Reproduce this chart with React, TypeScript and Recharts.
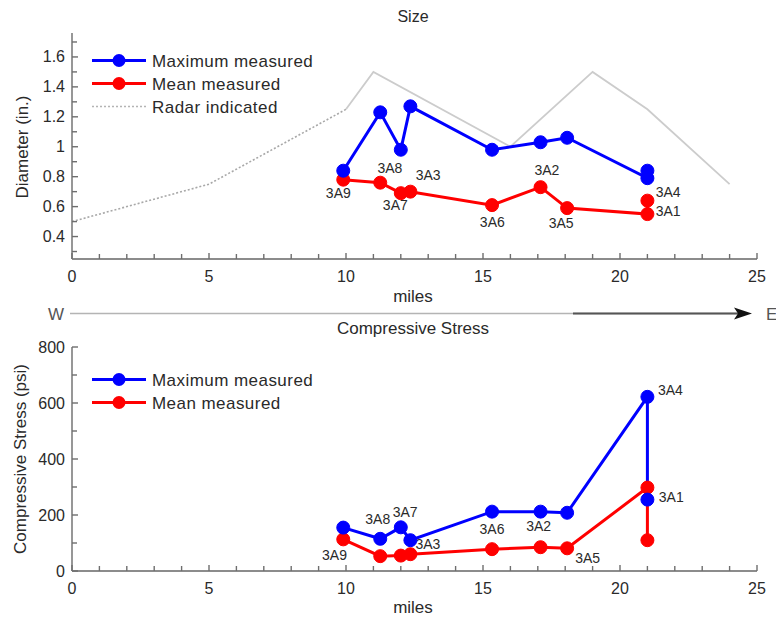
import React from 'react';
import { ComposedChart, Line, Scatter, XAxis, YAxis, Legend } from 'recharts';

// ---------- data ----------
const sites = ['3A9', '3A8', '3A7', '3A3', '3A6', '3A2', '3A5', '3A4', '3A1'];
const siteMiles = [9.9, 11.25, 12.0, 12.35, 15.33, 17.1, 18.07, 21.0, 21.0];
const diameterMax = [0.84, 1.23, 0.98, 1.27, 0.98, 1.03, 1.06, 0.79, 0.84];
const diameterMean = [0.78, 0.76, 0.69, 0.7, 0.61, 0.73, 0.59, 0.55, 0.64];
const stressMax = [155, 115, 156, 110, 212, 212, 208, 622, 255];
const stressMean = [113, 53, 55, 60, 78, 85, 81, 298, 110];

const radarMilesDotted = [0, 5, 10];
const radarDotted = [0.5, 0.75, 1.25];
const radarMilesSolid = [10, 11, 16, 19, 21, 24];
const radarSolid = [1.25, 1.5, 1.0, 1.5, 1.25, 0.75];

// site-label anchors (data coordinates)
const sizeLabelMiles = [9.72, 11.6, 11.8, 13.0, 15.34, 17.33, 17.85, 21.76, 21.76];
const sizeLabelDiam = [0.693, 0.86, 0.61, 0.813, 0.494, 0.843, 0.49, 0.695, 0.568];
const stressLabelMiles = [9.58, 11.16, 12.16, 12.99, 15.33, 17.03, 18.82, 21.84, 21.87];
const stressLabelPsi = [57, 184, 212, 96, 149, 160, 47, 646, 263];

const mileTicks = [0, 1, 2, 3, 4, 5, 6, 7, 8, 9, 10, 11, 12, 13, 14, 15, 16, 17, 18, 19, 20, 21, 22, 23, 24, 25];
const mileLabels = [0, 5, 10, 15, 20, 25];
const diameterTicks = [0.3, 0.4, 0.5, 0.6, 0.7, 0.8, 0.9, 1, 1.1, 1.2, 1.3, 1.4, 1.5, 1.6, 1.7];
const diameterLabels = [0.4, 0.6, 0.8, 1, 1.2, 1.4, 1.6];
const stressTicks = [0, 100, 200, 300, 400, 500, 600, 700, 800];
const stressLabels = [0, 200, 400, 600, 800];

// ---------- table building ----------
const zip = (xs: number[], ys: number[]) => xs.map((x, i) => ({ x, y: ys[i] }));
const sizeMaxData = zip(siteMiles, diameterMax);
const sizeMeanData = zip(siteMiles, diameterMean);
const radarDottedData = zip(radarMilesDotted, radarDotted);
const radarSolidData = zip(radarMilesSolid, radarSolid);
const stressMaxData = zip(siteMiles, stressMax);
const stressMeanData = zip(siteMiles, stressMean);
const sizeLabelData = sites.map((name, i) => ({ name, x: sizeLabelMiles[i], y: sizeLabelDiam[i] }));
const stressLabelData = sites.map((name, i) => ({ name, x: stressLabelMiles[i], y: stressLabelPsi[i] }));

// ---------- styles ----------
const FONT = '"Liberation Sans", Arial, Helvetica, sans-serif';
const AXIS = '#8c8c8c';
const TICKC = '#6e6e6e';
const TEXT = '#2a2a2a';
const BLUE = '#0000ff';
const RED = '#ff0000';
const TICK = 5;

const isIn = (arr: number[], v: number) => arr.some((a) => Math.abs(a - v) < 1e-6);

const makeBottomTick = (labels: number[]) => (props: any) => {
  const { x, y, payload } = props;
  const v = payload.value;
  const major = isIn(labels, v);
  return (
    <g>
      <line x1={x} x2={x} y1={y} y2={y - (major ? TICK + 1 : TICK)} stroke={TICKC} strokeWidth={1.4} />
      {major && (
        <text x={x} y={y + 23} textAnchor="middle" fill={TEXT} fontSize={16} fontFamily={FONT}>
          {v}
        </text>
      )}
    </g>
  );
};
const TopTick = (props: any) => {
  const { x, y } = props;
  return <line x1={x} x2={x} y1={y} y2={y + TICK} stroke={TICKC} strokeWidth={1.4} />;
};
const makeLeftTick = (labels: number[]) => (props: any) => {
  const { x, y, payload } = props;
  const v = payload.value;
  const major = isIn(labels, v);
  return (
    <g>
      <line x1={x} x2={x + (major ? TICK + 1 : TICK)} y1={y} y2={y} stroke={TICKC} strokeWidth={1.4} />
      {major && (
        <text x={x - 7} y={y + 5.5} textAnchor="end" fill={TEXT} fontSize={16} fontFamily={FONT}>
          {String(v)}
        </text>
      )}
    </g>
  );
};
const RightTick = (props: any) => {
  const { x, y } = props;
  return <line x1={x} x2={x - TICK} y1={y} y2={y} stroke={TICKC} strokeWidth={1.4} />;
};

const SiteLabel = (props: any) => {
  const { cx, cy, payload } = props;
  return (
    <text x={cx} y={cy + 5} textAnchor="middle" fill={TEXT} fontSize={14} fontFamily={FONT}>
      {payload.name}
    </text>
  );
};

type LegendItem = { label: string; color: string; width: number; dash?: string; dot: boolean };
const legendFull: LegendItem[] = [
  { label: 'Maximum measured', color: BLUE, width: 3, dot: true },
  { label: 'Mean measured', color: RED, width: 3, dot: true },
  { label: 'Radar indicated', color: '#b4b4b4', width: 1.6, dash: '2 2', dot: false },
];
const makeLegend = (items: LegendItem[]) => () => (
  <svg width={260} height={items.length * 23} style={{ display: 'block' }}>
    {items.map((it, i) => {
      const cy = i * 23 + 11.5;
      return (
        <g key={it.label}>
          <line x1={2} x2={56} y1={cy} y2={cy} stroke={it.color} strokeWidth={it.width} strokeDasharray={it.dash} />
          {it.dot && <circle cx={29} cy={cy} r={6.5} fill={it.color} />}
          <text x={62} y={cy + 6} fontSize={17} letterSpacing={0.45} fill={TEXT} fontFamily={FONT}>
            {it.label}
          </text>
        </g>
      );
    })}
  </svg>
);

const dotStyle = (c: string) => ({ r: 6.5, fill: c, stroke: c, strokeWidth: 1 });

const axisLine = { stroke: AXIS, strokeWidth: 1.8 };

export default function App() {
  return (
    <div style={{ position: 'absolute', left: 0, top: 0, width: 776, height: 618, background: '#fff', fontFamily: FONT }}>
      {/* Size chart */}
      <div style={{ position: 'absolute', left: 0, top: 0 }}>
        <ComposedChart width={776} height={300} margin={{ top: 33, right: 19, bottom: 1, left: 12 }}>
          <XAxis xAxisId={0} dataKey="x" type="number" domain={[0, 25]} ticks={mileTicks} interval={0}
            allowDataOverflow height={40} tickSize={0} tickMargin={0} tickLine={false} axisLine={axisLine}
            tick={makeBottomTick(mileLabels)} />
          <XAxis xAxisId="top" orientation="top" dataKey="x" type="number" domain={[0, 25]} ticks={mileTicks}
            interval={0} allowDataOverflow height={0} tickSize={0} tickMargin={0} tickLine={false}
            axisLine={axisLine} tick={TopTick} />
          <YAxis yAxisId={0} type="number" domain={[0.25, 1.76]} ticks={diameterTicks} interval={0}
            allowDataOverflow width={60} tickSize={0} tickMargin={0} tickLine={false} axisLine={axisLine}
            tick={makeLeftTick(diameterLabels)} />
          <YAxis yAxisId="right" orientation="right" type="number" domain={[0.25, 1.76]} ticks={diameterTicks}
            interval={0} allowDataOverflow width={0} tickSize={0} tickMargin={0} tickLine={false}
            axisLine={axisLine} tick={RightTick} />
          <Legend layout="vertical" align="center" verticalAlign="middle"
            wrapperStyle={{ left: 90, top: 48.5, width: 260 }} content={makeLegend(legendFull)} />
          <Line data={radarDottedData} dataKey="y" stroke="#a8a8a8" strokeWidth={1.6} strokeDasharray="2 2"
            dot={false} isAnimationActive={false} legendType="none" />
          <Line data={radarSolidData} dataKey="y" stroke="#cccccc" strokeWidth={1.8}
            dot={false} isAnimationActive={false} legendType="none" />
          <Line data={sizeMeanData} dataKey="y" stroke={RED} strokeWidth={3} dot={dotStyle(RED)}
            isAnimationActive={false} />
          <Line data={sizeMaxData} dataKey="y" stroke={BLUE} strokeWidth={3} dot={dotStyle(BLUE)}
            isAnimationActive={false} />
          <Scatter data={sizeLabelData} dataKey="y" shape={SiteLabel} isAnimationActive={false} legendType="none" />
        </ComposedChart>
      </div>

      {/* Compressive stress chart */}
      <div style={{ position: 'absolute', left: 0, top: 300 }}>
        <ComposedChart width={776} height={318} margin={{ top: 47, right: 19, bottom: 1, left: 12 }}>
          <XAxis xAxisId={0} dataKey="x" type="number" domain={[0, 25]} ticks={mileTicks} interval={0}
            allowDataOverflow height={46} tickSize={0} tickMargin={0} tickLine={false} axisLine={axisLine}
            tick={makeBottomTick(mileLabels)} />
          <XAxis xAxisId="top" orientation="top" dataKey="x" type="number" domain={[0, 25]} ticks={mileTicks}
            interval={0} allowDataOverflow height={0} tickSize={0} tickMargin={0} tickLine={false}
            axisLine={axisLine} tick={TopTick} />
          <YAxis yAxisId={0} type="number" domain={[0, 800]} ticks={stressTicks} interval={0}
            allowDataOverflow width={60} tickSize={0} tickMargin={0} tickLine={false} axisLine={axisLine}
            tick={makeLeftTick(stressLabels)} />
          <YAxis yAxisId="right" orientation="right" type="number" domain={[0, 800]} ticks={stressTicks}
            interval={0} allowDataOverflow width={0} tickSize={0} tickMargin={0} tickLine={false}
            axisLine={axisLine} tick={RightTick} />
          <Legend layout="vertical" align="center" verticalAlign="middle"
            wrapperStyle={{ left: 90, top: 67.8, width: 260 }} content={makeLegend(legendFull.slice(0, 2))} />
          <Line data={stressMeanData} dataKey="y" stroke={RED} strokeWidth={3} dot={dotStyle(RED)}
            isAnimationActive={false} />
          <Line data={stressMaxData} dataKey="y" stroke={BLUE} strokeWidth={3} dot={dotStyle(BLUE)}
            isAnimationActive={false} />
          <Scatter data={stressLabelData} dataKey="y" shape={SiteLabel} isAnimationActive={false} legendType="none" />
        </ComposedChart>
      </div>

      {/* titles, axis titles and W-E arrow */}
      <svg width={776} height={618} style={{ position: 'absolute', left: 0, top: 0, pointerEvents: 'none' }}>
        <g fontFamily={FONT} fill={TEXT} fontSize={17}>
          <text x={413} y={21.5} textAnchor="middle" fontSize={16}>Size</text>
          <text x={413} y={302} textAnchor="middle">miles</text>
          <text x={413} y={333.5} textAnchor="middle">Compressive Stress</text>
          <text x={413} y={613} textAnchor="middle">miles</text>
          <text transform="translate(22,147) rotate(-90)" textAnchor="middle" dominantBaseline="central">Diameter (in.)</text>
          <text transform="translate(20,459) rotate(-90)" textAnchor="middle" dominantBaseline="central">Compressive Stress (psi)</text>
          <text x={56} y={319.5} textAnchor="middle" fill="#555">W</text>
          <text x={766} y={319.5} fill="#555">E</text>
        </g>
        <line x1={70} x2={740} y1={313.5} y2={313.5} stroke="#b4b4b4" strokeWidth={1.6} />
        <line x1={573} x2={740} y1={313.5} y2={313.5} stroke="#555" strokeWidth={2.2} />
        <polygon points="734,307.5 752,313.5 734,319.5 738,313.5" fill="#111" />
      </svg>
    </div>
  );
}
